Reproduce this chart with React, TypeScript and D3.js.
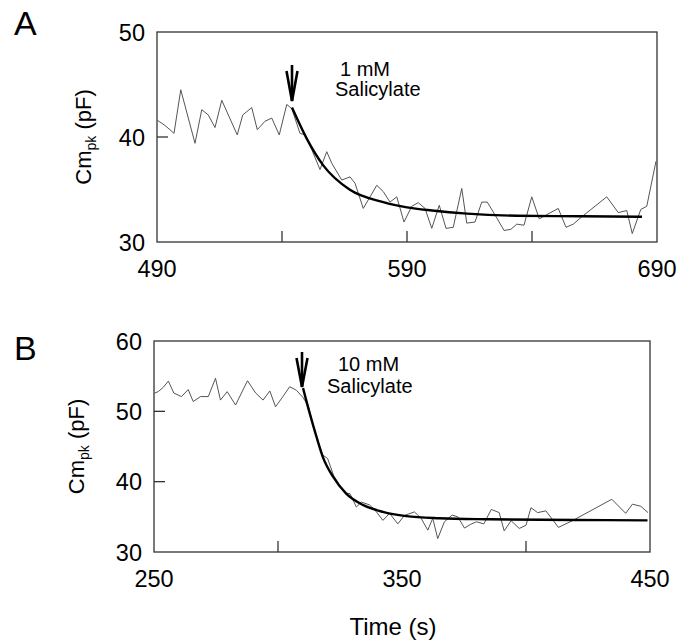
import React from "react";
import * as d3 from "d3";

// ---------- Panel A data ----------
const aTime = [490.1, 493.2, 496.8, 499.5, 505.2, 507.9, 510.5, 513.2, 515.9, 522.1, 524.3, 527.9, 530.1, 533.2, 535.9, 538.9, 541.9, 543.9, 547.2, 549.2, 551.9, 555.2, 557.9, 559.9, 563.9, 567.2, 569.2, 572.5, 577.9, 580.5, 583.2, 585.9, 588.8, 591.9, 594.5, 597.2, 599.9, 602.9, 605.6, 608.5, 611.9, 613.9, 617.2, 619.9, 622.1, 625.9, 628.8, 631.5, 633.9, 636.8, 639.9, 642.9, 645.9, 650.5, 653.6, 656.5, 659.9, 669.9, 674.5, 677.9, 680.1, 683.5, 685.9, 689.6];
const aCm = [41.6, 41.1, 40.35, 44.5, 39.4, 42.6, 42.1, 40.9, 43.5, 40.2, 42.1, 42.8, 40.7, 41.5, 41.8, 40.2, 43.1, 42.7, 40.35, 40.2, 38.8, 36.9, 38.6, 37.5, 35.9, 36.2, 35.6, 33.2, 35.4, 34.8, 33.8, 34.3, 31.9, 33.4, 33.75, 33.2, 31.3, 33.5, 31.3, 31.4, 35.1, 31.8, 31.9, 33.8, 33.8, 32.3, 31.1, 31.2, 31.7, 31.6, 34.3, 32.2, 32.6, 33.2, 31.4, 31.7, 32.4, 34.3, 32.8, 33.0, 30.8, 33.1, 33.4, 37.7];
const aFitTime = [544, 550, 556.5, 567, 580.5, 590, 600, 614, 634, 660, 684];
const aFitCm = [42.8, 39.8, 37.3, 35.0, 33.8, 33.3, 33.0, 32.7, 32.5, 32.45, 32.4];
const aXTicks = [490, 590, 690];
const aXMinor = [540, 590, 640];
const aYTicks = [30, 40, 50];
const aYMinor = [40];

// ---------- Panel B data ----------
const bTime = [250, 251.7, 253.7, 255.8, 258, 261.1, 263.8, 265.8, 268.8, 271.9, 274.8, 276.8, 279.5, 282.9, 287.7, 291, 294, 296.7, 299, 302, 304.7, 307.4, 310, 312.2, 315, 318, 320, 322.5, 325, 327, 329, 331.6, 333.6, 336.9, 339.5, 342.3, 345, 348.3, 351, 355, 357.7, 360.4, 362.4, 364.4, 367.1, 370.2, 372.5, 375.2, 377.5, 380, 383, 386, 389.2, 391.2, 394, 397.3, 400, 402, 404.7, 408, 413.1, 418.7, 434.6, 440.2, 442.9, 446.3, 449.2];
const bCm = [52.56, 52.8, 53.4, 54.3, 52.6, 52.1, 53.1, 51.4, 52.1, 52.1, 54.7, 51.6, 52.8, 50.9, 54.35, 52.6, 51.6, 52.9, 50.65, 52.1, 53.5, 53.0, 52.0, 50.8, 47.0, 43.8, 43.3, 40.8, 39.4, 38.4, 38.3, 36.4, 37.1, 36.7, 35.8, 34.5, 35.5, 34.0, 35.2, 35.7, 34.8, 33.1, 34.8, 31.9, 34.3, 35.25, 35.0, 33.4, 33.9, 34.3, 34.0, 36.05, 35.6, 33.0, 34.45, 33.35, 33.8, 36.3, 35.6, 35.85, 33.5, 34.45, 37.5, 35.5, 36.8, 36.5, 35.6];
const bFitTime = [310.1, 312.8, 315.5, 318.1, 322.2, 327.5, 334.2, 342.3, 351.7, 365, 385, 420, 449];
const bFitCm = [53.3, 49.7, 46.4, 43.5, 40.7, 38.3, 36.7, 35.7, 35.1, 34.8, 34.65, 34.55, 34.5];
const bXTicks = [250, 350, 450];
const bXMinor = [300, 400];
const bYTicks = [30, 40, 50, 60];
const bYMinor = [40, 50];

const FONT = "'Liberation Sans', Arial, Helvetica, sans-serif";

type PanelProps = {
  letter: string;
  letterY: number;
  left: number;
  right: number;
  top: number;
  bottom: number;
  xDomain: [number, number];
  yDomain: [number, number];
  time: number[];
  cm: number[];
  fitTime: number[];
  fitCm: number[];
  xTicks: number[];
  xMinor: number[];
  yTicks: number[];
  yMinor: number[];
  labelX: number;
  conc: string;
  concX: number;
  concY: number;
  salX: number;
  salY: number;
  arrowX: number;
  arrowTop: number;
  arrowTip: number;
};

function Panel(p: PanelProps) {
  const x = d3.scaleLinear().domain(p.xDomain).range([p.left, p.right]);
  const y = d3.scaleLinear().domain(p.yDomain).range([p.bottom, p.top]);
  const data = p.time.map((t, i) => [t, p.cm[i]] as [number, number]);
  const fit = p.fitTime.map((t, i) => [t, p.fitCm[i]] as [number, number]);
  const line = d3
    .line<[number, number]>()
    .x((d) => x(d[0]))
    .y((d) => y(d[1]));
  const fitLine = d3
    .line<[number, number]>()
    .x((d) => x(d[0]))
    .y((d) => y(d[1]))
    .curve(d3.curveMonotoneX);
  const tickLen = 11;
  const midY = (p.top + p.bottom) / 2;
  const ax = p.arrowX;
  return (
    <g>
      <text x={14} y={p.letterY} fontFamily={FONT} fontSize={34} fill="#000">
        {p.letter}
      </text>
      {/* frame */}
      <rect
        x={p.left}
        y={p.top}
        width={p.right - p.left}
        height={p.bottom - p.top}
        fill="none"
        stroke="#333"
        strokeWidth={1.3}
      />
      {/* inward ticks */}
      {p.xMinor.map((t) => (
        <line key={"xm" + t} x1={x(t)} x2={x(t)} y1={p.bottom} y2={p.bottom - tickLen} stroke="#333" strokeWidth={1.3} />
      ))}
      {p.yMinor.map((v) => (
        <line key={"ym" + v} x1={p.left} x2={p.left + tickLen} y1={y(v)} y2={y(v)} stroke="#333" strokeWidth={1.3} />
      ))}
      {/* tick labels */}
      {p.xTicks.map((t) => (
        <text key={"xl" + t} x={x(t)} y={p.bottom + 35} textAnchor="middle" fontFamily={FONT} fontSize={23.5} fill="#000">
          {t}
        </text>
      ))}
      {p.yTicks.map((v) => (
        <text key={"yl" + v} x={p.left - 12} y={y(v) + 8.5} textAnchor="end" fontFamily={FONT} fontSize={23.5} fill="#000">
          {v}
        </text>
      ))}
      {/* y-axis label */}
      <text
        transform={`translate(${p.labelX},${midY}) rotate(-90)`}
        textAnchor="middle"
        fontFamily={FONT}
        fontSize={22}
        fill="#000"
      >
        Cm
        <tspan fontSize={14} dy={5}>
          pk
        </tspan>
        <tspan dy={-5}> (pF)</tspan>
      </text>
      {/* data */}
      <path d={line(data) || ""} fill="none" stroke="#555" strokeWidth={1} strokeLinejoin="miter" />
      <path d={fitLine(fit) || ""} fill="none" stroke="#000" strokeWidth={2.4} />
      {/* arrow */}
      <g stroke="#000" strokeWidth={2.6} fill="none" strokeLinecap="butt">
        <line x1={ax} x2={ax} y1={p.arrowTop} y2={p.arrowTip} />
        <polyline points={`${ax - 5.5},${p.arrowTop + 6} ${ax},${p.arrowTip} ${ax + 5.5},${p.arrowTop + 6}`} strokeLinejoin="miter" />
      </g>
      <text x={p.concX} y={p.concY} fontFamily={FONT} fontSize={20} fill="#000">
        {p.conc}
      </text>
      <text x={p.salX} y={p.salY} fontFamily={FONT} fontSize={20} fill="#000">
        Salicylate
      </text>
    </g>
  );
}

export default function App() {
  return (
    <svg
      width={694}
      height={641}
      style={{ position: "absolute", left: 0, top: 0, background: "#fff" }}
    >
      <rect x={0} y={0} width={694} height={641} fill="#fff" />
      <Panel
        letter="A"
        letterY={35}
        left={157}
        right={657}
        top={32}
        bottom={242}
        xDomain={[490, 690]}
        yDomain={[30, 50]}
        time={aTime}
        cm={aCm}
        fitTime={aFitTime}
        fitCm={aFitCm}
        xTicks={aXTicks}
        xMinor={aXMinor}
        yTicks={aYTicks}
        yMinor={aYMinor}
        labelX={91}
        conc="1 mM"
        concX={340}
        concY={76}
        salX={335}
        salY={96}
        arrowX={292}
        arrowTop={65}
        arrowTip={101}
      />
      <Panel
        letter="B"
        letterY={360}
        left={154}
        right={650}
        top={341}
        bottom={552}
        xDomain={[250, 450]}
        yDomain={[30, 60]}
        time={bTime}
        cm={bCm}
        fitTime={bFitTime}
        fitCm={bFitCm}
        xTicks={bXTicks}
        xMinor={bXMinor}
        yTicks={bYTicks}
        yMinor={bYMinor}
        labelX={84}
        conc="10 mM"
        concX={338}
        concY={371}
        salX={327}
        salY={393}
        arrowX={302}
        arrowTop={352}
        arrowTip={387}
      />
      <text x={393} y={635} textAnchor="middle" fontFamily={FONT} fontSize={24} fill="#000">
        Time (s)
      </text>
    </svg>
  );
}
